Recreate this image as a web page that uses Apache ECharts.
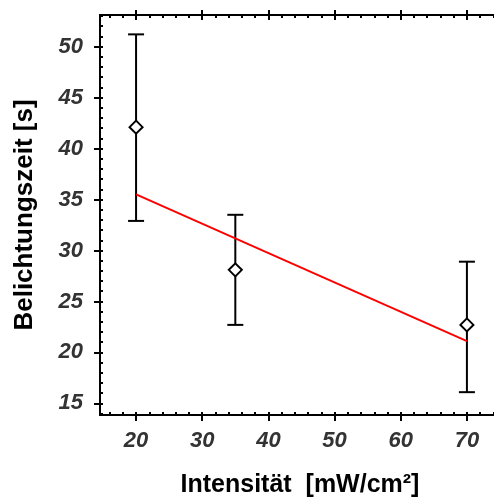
<!DOCTYPE html>
<html><head><meta charset="utf-8">
<script src="https://cdn.jsdelivr.net/npm/echarts@6/dist/echarts.min.js"></script>
<style>html,body{margin:0;padding:0;background:#fff}#c{width:494px;height:498px}</style>
</head><body><div id="c"></div>
<script>
// Data
const intensity = [20, 35, 70];
const exposureMean = [42.1, 28.1, 22.7];
const exposureLow = [32.9, 22.7, 16.1];
const exposureHigh = [51.2, 33.5, 28.9];
const fitX = [20, 70];
const fitY = [35.5, 21.1];
const xTicks = [20, 30, 40, 50, 60, 70];
const yTicks = [15, 20, 25, 30, 35, 40, 45, 50];
const xTitle = 'Intensität  [mW/cm²]';
const yTitle = 'Belichtungszeit [s]';

const X_MIN = 14.55, X_MAX = 75, Y_MIN = 13.86, Y_MAX = 53.1;
const xMinor = []; for (let v = 16; v <= 74; v += 2) if (v % 10) xMinor.push(v);
const yMinor = []; for (let v = 14; v <= 53; v += 1) if (v % 5) yMinor.push(v);

const FONT = '"Liberation Sans", Arial, sans-serif';
const lineS = {color: '#000', width: 2};
function xAx(pos, o) {
  return Object.assign({
    type: 'value', position: pos, min: X_MIN, max: X_MAX,
    axisLine: {show: true, lineStyle: lineS},
    splitLine: {show: false},
    axisLabel: {show: false},
    axisTick: {show: false}
  }, o);
}
function yAx(pos, o) {
  return Object.assign({
    type: 'value', position: pos, min: Y_MIN, max: Y_MAX,
    axisLine: {show: true, lineStyle: lineS},
    splitLine: {show: false},
    axisLabel: {show: false},
    axisTick: {show: false}
  }, o);
}
const labelStyle = {fontFamily: FONT, fontSize: 22, fontWeight: 'bold', fontStyle: 'italic', color: '#333'};

const option = {
  animation: false,
  backgroundColor: '#fff',
  grid: {left: 100, top: 15, width: 400, bottom: 83, containLabel: false, outerBoundsMode: 'none'},
  xAxis: [
    xAx('bottom', {
      name: xTitle, nameLocation: 'middle', nameGap: 58,
      nameTextStyle: {fontFamily: FONT, fontSize: 25, fontWeight: 'bold', color: '#000'},
      axisLabel: Object.assign({show: true, margin: 15, customValues: xTicks}, labelStyle),
      axisTick: {show: true, inside: false, length: 6, lineStyle: lineS, customValues: xTicks}
    }),
    xAx('bottom', {axisTick: {show: true, inside: true, length: 3, lineStyle: lineS, customValues: xTicks}}),
    xAx('bottom', {axisTick: {show: true, inside: true, length: 3, lineStyle: lineS, customValues: xMinor}}),
    xAx('top', {axisTick: {show: true, inside: false, length: 5, lineStyle: lineS, customValues: xTicks}}),
    xAx('top', {axisTick: {show: true, inside: true, length: 5, lineStyle: lineS, customValues: xTicks}}),
    xAx('top', {axisTick: {show: true, inside: true, length: 3, lineStyle: lineS, customValues: xMinor}})
  ],
  yAxis: [
    yAx('left', {
      name: yTitle, nameLocation: 'middle', nameGap: 62, nameRotate: 90,
      nameTextStyle: {fontFamily: FONT, fontSize: 26, fontWeight: 'bold', color: '#000'},
      axisLabel: Object.assign({show: true, margin: 17, customValues: yTicks}, labelStyle),
      axisTick: {show: true, inside: false, length: 6, lineStyle: lineS, customValues: yTicks}
    }),
    yAx('left', {axisTick: {show: true, inside: true, length: 3, lineStyle: lineS, customValues: yTicks}}),
    yAx('left', {axisTick: {show: true, inside: true, length: 3, lineStyle: lineS, customValues: yMinor}})
  ],
  series: [
    {
      type: 'custom', xAxisIndex: 0, yAxisIndex: 0, z: 2,
      data: intensity.map((x, i) => [x, exposureLow[i], exposureHigh[i]]),
      encode: {x: 0, y: [1, 2]},
      renderItem: function (params, api) {
        const x = api.value(0);
        const lo = api.coord([x, api.value(1)]);
        const hi = api.coord([x, api.value(2)]);
        const hw = 8;
        const st = {stroke: '#000', lineWidth: 2};
        return {type: 'group', children: [
          {type: 'line', shape: {x1: lo[0], y1: lo[1], x2: hi[0], y2: hi[1]}, style: st},
          {type: 'line', shape: {x1: lo[0] - hw, y1: lo[1], x2: lo[0] + hw, y2: lo[1]}, style: st},
          {type: 'line', shape: {x1: hi[0] - hw, y1: hi[1], x2: hi[0] + hw, y2: hi[1]}, style: st}
        ]};
      }
    },
    {
      type: 'line', xAxisIndex: 0, yAxisIndex: 0, z: 3,
      data: fitX.map((x, i) => [x, fitY[i]]),
      showSymbol: false, symbol: 'none',
      lineStyle: {color: '#ff0000', width: 2}
    },
    {
      type: 'scatter', xAxisIndex: 0, yAxisIndex: 0, z: 4,
      data: intensity.map((x, i) => [x, exposureMean[i]]),
      symbol: 'diamond', symbolSize: 13,
      itemStyle: {color: '#fff', borderColor: '#000', borderWidth: 2, opacity: 1}
    }
  ]
};
echarts.init(document.getElementById('c'), null, {renderer: 'canvas'}).setOption(option);
</script>
</body></html>
